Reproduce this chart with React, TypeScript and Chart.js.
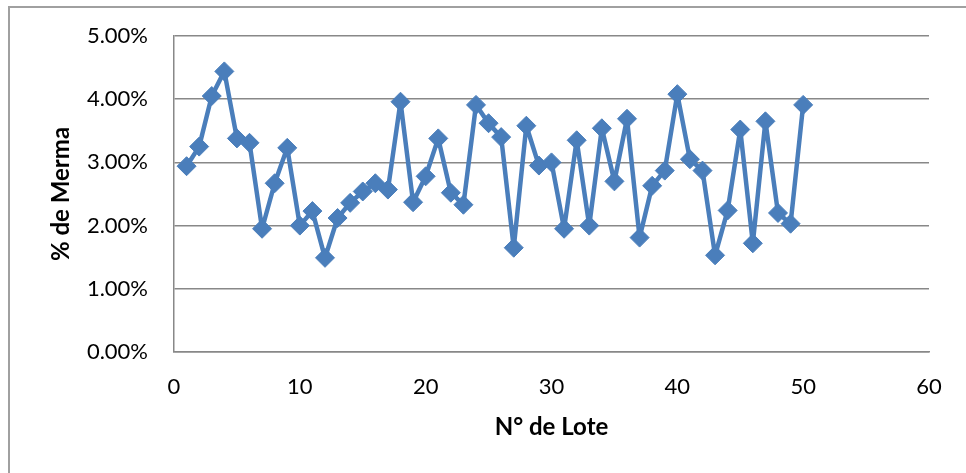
import React, { useEffect, useRef } from "react";
import { Chart, registerables } from "chart.js";

Chart.register(...registerables);

const lotes: number[] = [
  1, 2, 3, 4, 5, 6, 7, 8, 9, 10, 11, 12, 13, 14, 15, 16, 17, 18, 19, 20, 21, 22, 23, 24, 25,
  26, 27, 28, 29, 30, 31, 32, 33, 34, 35, 36, 37, 38, 39, 40, 41, 42, 43, 44, 45, 46, 47, 48, 49, 50,
];

const mermaPct: number[] = [
  2.94, 3.25, 4.05, 4.44, 3.38, 3.31, 1.95, 2.67, 3.23, 2.0,
  2.23, 1.49, 2.12, 2.36, 2.54, 2.67, 2.57, 3.96, 2.37, 2.78,
  3.38, 2.52, 2.33, 3.91, 3.62, 3.4, 1.65, 3.58, 2.95, 3.0,
  1.95, 3.35, 2.0, 3.54, 2.7, 3.69, 1.81, 2.63, 2.87, 4.08,
  3.05, 2.87, 1.53, 2.24, 3.52, 1.72, 3.65, 2.2, 2.03, 3.91,
];

const yTitle = "% de Merma";
const xTitle = "N° de Lote";

const FONT = "Lato, 'Open Sans', 'Liberation Sans', sans-serif";
const GRID = "#888888";
const BLUE = "#4a7ebb";
const TICK_SIZE = 22;
const TITLE_SIZE = 24;

export default function App() {
  const ref = useRef<HTMLCanvasElement | null>(null);

  useEffect(() => {
    if (!ref.current) return;
    const chart = new Chart(ref.current, {
      type: "scatter",
      data: {
        datasets: [
          {
            data: lotes.map((x, i) => ({ x, y: mermaPct[i] })),
            showLine: true,
            borderColor: BLUE,
            backgroundColor: BLUE,
            borderWidth: 4.5,
            borderJoinStyle: "round",
            borderCapStyle: "round",
            tension: 0,
            pointStyle: "rectRot",
            pointRadius: 9.5,
            pointBackgroundColor: BLUE,
            pointBorderColor: BLUE,
            pointBorderWidth: 1,
          },
        ],
      },
      options: {
        responsive: false,
        animation: false,
        layout: { autoPadding: false, padding: { left: 0, right: 37, top: 36, bottom: 0 } },
        plugins: { legend: { display: false }, tooltip: { enabled: false } },
        scales: {
          x: {
            type: "linear",
            min: 0,
            max: 60,
            afterFit: (s: any) => {
              s.height = 121;
              s.paddingLeft = 0;
              s.paddingRight = 0;
            },
            grid: { display: false, drawTicks: false },
            border: { display: true, color: GRID, width: 1.5 },
            ticks: {
              stepSize: 10,
              padding: 22,
              color: "#000",
              font: { family: FONT, size: TICK_SIZE },
            },
            title: {
              display: true,
              text: xTitle,
              color: "#000",
              font: { family: FONT, size: TITLE_SIZE, weight: "bold" },
              padding: { top: 0, bottom: 31 },
            },
          },
          y: {
            type: "linear",
            min: 0,
            max: 5,
            afterFit: (s: any) => {
              s.width = 174;
              s.paddingTop = 0;
              s.paddingBottom = 0;
            },
            grid: { display: true, color: GRID, lineWidth: 1.5, drawTicks: false },
            border: { display: true, color: GRID, width: 1.5 },
            ticks: {
              stepSize: 1,
              padding: 26,
              color: "#000",
              font: { family: FONT, size: TICK_SIZE },
              callback: (v: any) => Number(v).toFixed(2) + "%",
            },
            title: {
              display: true,
              text: yTitle,
              color: "#000",
              font: { family: FONT, size: TITLE_SIZE, weight: "bold" },
              padding: { top: 47, bottom: 0 },
            },
          },
        },
      },
    });
    return () => chart.destroy();
  }, []);

  return (
    <div style={{ position: "absolute", left: 0, top: 0, width: 966, height: 473, background: "#fff", overflow: "hidden" }}>
      <canvas ref={ref} width={966} height={473} style={{ display: "block", position: "absolute", left: 0, top: 0 }} />
      <div
        style={{
          position: "absolute",
          left: 8,
          top: 6,
          width: 966,
          height: 473,
          borderLeft: "2px solid #a0a0a0",
          borderTop: "2px solid #a0a0a0",
          pointerEvents: "none",
        }}
      />
    </div>
  );
}
